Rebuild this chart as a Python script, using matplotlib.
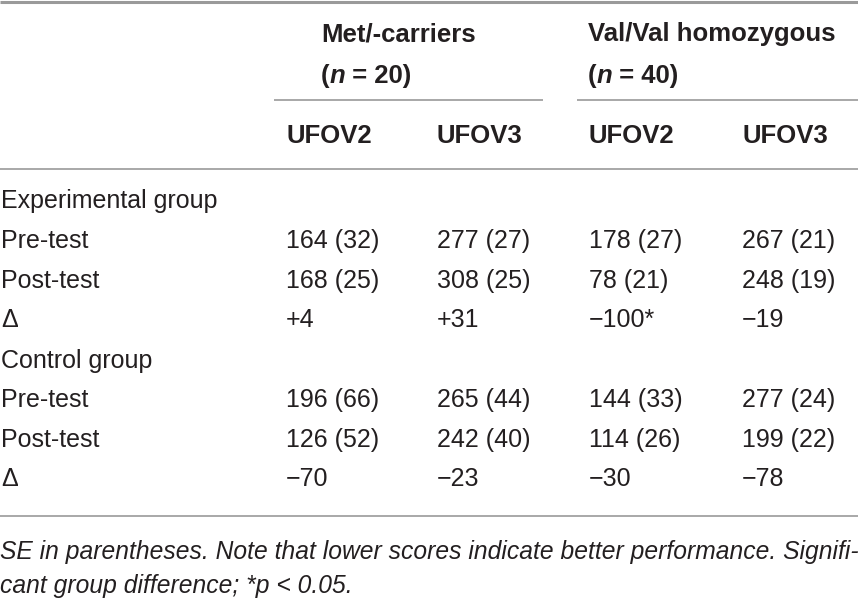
import matplotlib
matplotlib.use("Agg")
import matplotlib.pyplot as plt

W, H = 858, 601
FONT = "Liberation Sans"
INK = "#231f20"
RULE = "#9a9a9a"
FS = 18
FS_HEAD = 18.5
FS_NOTE = 17.7

# table content
genotypes = ["Met/-carriers", "Val/Val homozygous"]
genotype_n = [20, 40]
measures = ["UFOV2", "UFOV3", "UFOV2", "UFOV3"]
groups = ["Experimental group", "Control group"]
row_labels = ["Pre-test", "Post-test", "\u0394"]

exp_pre_mean = [164, 277, 178, 267]
exp_pre_se = [32, 27, 27, 21]
exp_post_mean = [168, 308, 78, 248]
exp_post_se = [25, 25, 21, 19]
exp_delta = [4, 31, -100, -19]
exp_delta_sig = ["", "", "*", ""]

ctl_pre_mean = [196, 265, 144, 277]
ctl_pre_se = [66, 44, 33, 24]
ctl_post_mean = [126, 242, 114, 199]
ctl_post_se = [52, 40, 26, 22]
ctl_delta = [-70, -23, -30, -78]
ctl_delta_sig = ["", "", "", ""]

footnote = ["SE in parentheses. Note that lower scores indicate better performance. Signifi-",
            "cant group difference; *p < 0.05."]

col_x = [286, 437, 589, 742]
head_x = [321, 588]
span_x = [(274, 543), (577, 858)]
row_y = [201, 241, 281, 320, 361, 400, 440, 479]


def fmt_delta(v, sig):
    sign = "+" if v > 0 else "\u2212"
    return f"{sign}{abs(v)}{sig}"


fig = plt.figure(figsize=(W / 100, H / 100), dpi=100)
ax = fig.add_axes([0, 0, 1, 1])
ax.set_xlim(0, W)
ax.set_ylim(H, 0)
ax.axis("off")
renderer = fig.canvas.get_renderer()


def runs(x, y, parts, size):
    # draw text pieces one after another on the same baseline
    for txt, style in parts:
        t = ax.text(x, y, txt, fontfamily=FONT, fontsize=size, color=INK,
                    va="baseline", ha="left", **style)
        bb = t.get_window_extent(renderer)
        x += bb.width


def cell(x, y, txt, **kw):
    ax.text(x, y, txt, fontfamily=FONT, fontsize=FS, color=INK, va="center", **kw)


# rules
ax.hlines(2, 0, W, color=RULE, lw=2.2)
for x0, x1 in span_x:
    ax.hlines(100, x0, x1, color=RULE, lw=1.2)
ax.hlines(169, 0, W, color=RULE, lw=1.2)
ax.hlines(516, 0, W, color=RULE, lw=1.2)

# header
bold = {"fontweight": "bold"}
for i, name in enumerate(genotypes):
    hx = head_x[i]
    ax.text(hx, 41, name, fontfamily=FONT, fontsize=FS_HEAD, color=INK,
            fontweight="bold", va="baseline")
    runs(hx, 83, [("(", bold), ("n", {"fontweight": "bold", "fontstyle": "italic"}),
                  (f" = {genotype_n[i]})", bold)], FS_HEAD)
for x, m in zip(col_x, measures):
    ax.text(x, 143, m, fontfamily=FONT, fontsize=FS_HEAD, color=INK,
            fontweight="bold", va="baseline")

# body
blocks = [
    (groups[0], [exp_pre_mean, exp_post_mean], [exp_pre_se, exp_post_se], exp_delta, exp_delta_sig),
    (groups[1], [ctl_pre_mean, ctl_post_mean], [ctl_pre_se, ctl_post_se], ctl_delta, ctl_delta_sig),
]
r = 0
for gname, means, ses, delta, sig in blocks:
    cell(1, row_y[r], gname)
    r += 1
    for k in range(2):
        cell(1, row_y[r], row_labels[k])
        for j, x in enumerate(col_x):
            cell(x, row_y[r], f"{means[k][j]} ({ses[k][j]})")
        r += 1
    cell(1, row_y[r], row_labels[2])
    for j, x in enumerate(col_x):
        cell(x, row_y[r], fmt_delta(delta[j], sig[j]))
    r += 1

# footnote
for y, line in zip([552, 586], footnote):
    ax.text(0, y, line, fontfamily=FONT, fontsize=FS_NOTE, color=INK,
            fontstyle="italic", va="center")

fig.savefig("out.png", dpi=100)
